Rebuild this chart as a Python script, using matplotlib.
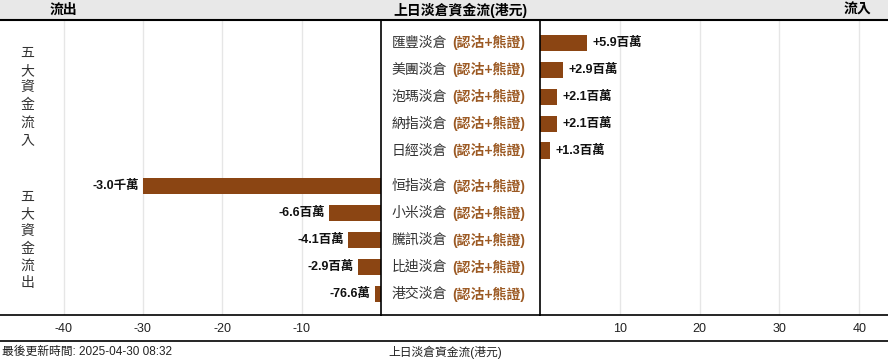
import matplotlib
matplotlib.use("Agg")
import matplotlib.pyplot as plt
from matplotlib.patches import Rectangle
from matplotlib.lines import Line2D

plt.rcParams['font.family'] = ['Liberation Sans', 'Noto Sans CJK TC', 'DejaVu Sans']

# ---- data (values in 百萬港元) ----
in_names = ["匯豐淡倉", "美團淡倉", "泡瑪淡倉", "納指淡倉", "日經淡倉"]
in_values = [5.9, 2.9, 2.1, 2.1, 1.3]
in_labels = ["+5.9百萬", "+2.9百萬", "+2.1百萬", "+2.1百萬", "+1.3百萬"]

out_names = ["恒指淡倉", "小米淡倉", "騰訊淡倉", "比迪淡倉", "港交淡倉"]
out_values = [-30.0, -6.6, -4.1, -2.9, -0.766]
out_labels = ["-3.0千萬", "-6.6百萬", "-4.1百萬", "-2.9百萬", "-76.6萬"]

suffix = "(認沽+熊證)"
left_ticks = [-40, -30, -20, -10]
right_ticks = [10, 20, 30, 40]

title = "上日淡倉資金流(港元)"
footer_left = "最後更新時間: 2025-04-30 08:32"

# ---- layout ----
W, H = 888, 362
fig = plt.figure(figsize=(W / 100, H / 100), dpi=100)

bar_color = "#8B4513"
suffix_color = "#9C5A24"
grid_color = "#e6e6e6"

top_px, bot_px = 20, 315
x0_left, x_mid_l, x_mid_r = 0, 381, 540

def fx(px):
    return px / W

def fy(py):
    return 1 - py / H

ax_b = fy(bot_px)
ax_h = (bot_px - top_px) / H

axL = fig.add_axes([fx(x0_left), ax_b, fx(x_mid_l - x0_left), ax_h])
axR = fig.add_axes([fx(x_mid_r), ax_b, fx(W - x_mid_r), ax_h])
axM = fig.add_axes([fx(x_mid_l), ax_b, fx(x_mid_r - x_mid_l), ax_h])

gap = 0.33
ypos_in = [i for i in range(len(in_values))]
ypos_out = [len(in_values) + gap + i for i in range(len(out_values))]
ylim = (ypos_out[-1] + 0.78, -0.85)

for ax in (axL, axR, axM):
    ax.set_ylim(*ylim)
    ax.set_yticks([])
    for s in ax.spines.values():
        s.set_visible(False)

axL.set_xlim(-48, 0)
axR.set_xlim(0, 43.6)
axM.set_xlim(0, 1)
axM.set_xticks([])

for ax, ticks in ((axL, left_ticks), (axR, right_ticks)):
    ax.set_xticks(ticks)
    ax.set_xticklabels([str(t) for t in ticks])
    ax.tick_params(axis='x', length=0, labelsize=9, pad=6, colors='#222222')
    ax.grid(axis='x', color=grid_color, linewidth=1)
    ax.set_axisbelow(True)
    ax.spines['bottom'].set_visible(True)
    ax.spines['bottom'].set_color('black')
    ax.spines['bottom'].set_linewidth(1.2)

axM.spines['bottom'].set_visible(True)
axM.spines['bottom'].set_linewidth(1.2)
axM.spines['left'].set_visible(True)
axM.spines['right'].set_visible(True)
axM.spines['left'].set_linewidth(1.2)
axM.spines['right'].set_linewidth(1.2)

bh = 0.6
axR.barh(ypos_in, in_values, height=bh, color=bar_color)
axL.barh(ypos_out, out_values, height=bh, color=bar_color)

for y, v, lab in zip(ypos_in, in_values, in_labels):
    axR.text(v + 0.7, y, lab, ha='left', va='center', fontsize=9,
             fontweight='bold', color='#111111')
for y, v, lab in zip(ypos_out, out_values, out_labels):
    axL.text(v - 0.5, y, lab, ha='right', va='center', fontsize=9,
             fontweight='bold', color='#111111')

for y, name in zip(ypos_in + ypos_out, in_names + out_names):
    t = axM.text(0.065, y, name, ha='left', va='center', fontsize=10, color='#333333')
    axM.annotate(suffix, xycoords=t, xy=(1, 0.5), xytext=(4, 0),
                 textcoords='offset points', ha='left', va='center',
                 fontsize=10, fontweight='bold', color=suffix_color)

# group labels (vertical)
axL.text(fx(27) / fx(x_mid_l - x0_left), sum(ypos_in) / len(ypos_in),
         "\n".join("五大資金流入"), transform=axL.get_yaxis_transform(),
         ha='center', va='center', fontsize=10, color='#333333', linespacing=1.3)
axL.text(fx(27) / fx(x_mid_l - x0_left), sum(ypos_out) / len(ypos_out),
         "\n".join("五大資金流出"), transform=axL.get_yaxis_transform(),
         ha='center', va='center', fontsize=10, color='#333333', linespacing=1.3)

# header
fig.patches.append(Rectangle((0, fy(19)), 1, 1 - fy(19), transform=fig.transFigure,
                             facecolor='#e8e8e8', edgecolor='none', zorder=0))
fig.add_artist(Line2D([0, 1], [fy(20), fy(20)], transform=fig.transFigure,
                      color='black', linewidth=1.5))
fig.text(fx(63), fy(10), "流出", ha='center', va='center', fontsize=10, fontweight='bold')
fig.text(fx(460), fy(10), title, ha='center', va='center', fontsize=10, fontweight='bold')
fig.text(fx(857), fy(10), "流入", ha='center', va='center', fontsize=10, fontweight='bold')

# footer
fig.add_artist(Line2D([0, 1], [fy(341), fy(341)], transform=fig.transFigure,
                      color='black', linewidth=1.2))
fig.text(fx(2), fy(352), footer_left, ha='left', va='center', fontsize=8.5, color='#222222')
fig.text(fx(445), fy(352), title, ha='center', va='center', fontsize=8.5, color='#222222')

fig.savefig("out.png", dpi=100)
